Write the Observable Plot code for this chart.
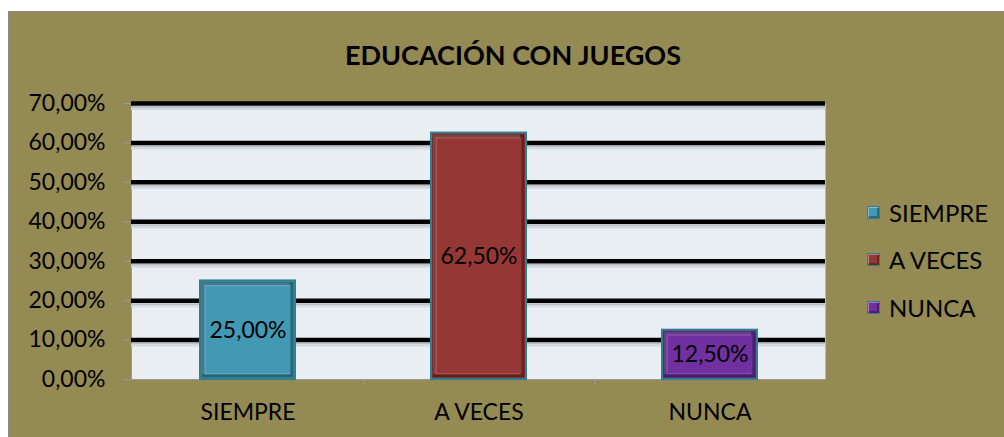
<!DOCTYPE html>
<html>
<head>
<meta charset="utf-8">
<script src="https://cdn.jsdelivr.net/npm/d3@7"></script>
<script src="https://cdn.jsdelivr.net/npm/@observablehq/plot@0.6"></script>
<style>
  html, body { margin: 0; padding: 0; background: #fff; }
  #wrap { position: relative; width: 1004px; height: 437px; overflow: hidden; font-family: Lato, "Noto Sans", sans-serif; }
  #panel { position: absolute; left: 8px; top: 11px; right: 0; bottom: 0; background: #948a54; border-left: 1px solid #8a8a8a; border-top: 1px solid #8a8a8a; }
  #title { position: absolute; left: 0; width: 1026px; top: 38px; text-align: center; font-weight: bold; font-size: 27px; color: #000; }
  #chart { position: absolute; left: 0; top: 0; }
  #legend { position: absolute; left: 867px; top: 0; }
  .item { position: absolute; left: 0; display: flex; align-items: center; white-space: nowrap; font-size: 24px; color: #000; }
  .sw { width: 11px; height: 11px; margin-right: 9px; border: 1px solid #2f7f93; box-shadow: inset 1px 1px 0 rgba(255,255,255,0.35), inset -2px -2px 0 rgba(0,0,0,0.3); }
</style>
</head>
<body>
<div id="wrap">
  <div id="panel"></div>
  <div id="title"></div>
  <div id="chart"></div>
  <div id="legend"></div>
</div>
<script>
const titleText = "EDUCACIÓN CON JUEGOS";
const categories = ["SIEMPRE", "A VECES", "NUNCA"];
const values = [0.25, 0.625, 0.125];
const colors = ["#4299b4", "#953735", "#7030a0"];
const yTicks = [0, 0.1, 0.2, 0.3, 0.4, 0.5, 0.6, 0.7];
const gridTicks = [0.1, 0.2, 0.3, 0.4, 0.5, 0.6, 0.7];

const data = categories.map((c, i) => ({category: c, value: values[i], color: colors[i]}));
const pct = d => (d * 100).toFixed(2).replace(".", ",") + "%";

document.getElementById("title").textContent = titleText;

const W = 1004, H = 437;
const mL = 131, mR = 179, mT = 103, mB = 58;
const band = (W - mL - mR) / categories.length;

const chart = Plot.plot({
  width: W,
  height: H,
  marginLeft: mL,
  marginRight: mR,
  marginTop: mT,
  marginBottom: mB,
  style: {background: "transparent", fontFamily: "Lato, 'Noto Sans', sans-serif", color: "#000", overflow: "visible"},
  x: {domain: categories, padding: 0, label: null},
  y: {domain: [0, 0.7], label: null},
  marks: [
    Plot.frame({fill: "#e8eef2", stroke: null}),
    Plot.frame({anchor: "left", stroke: "#9a9a9a"}),
    // gridline shadows
    Plot.ruleY(gridTicks, {stroke: "#b9c1c7", strokeWidth: 2, dy: 3.5}),
    Plot.ruleY(gridTicks, {stroke: "#d3d9de", strokeWidth: 2, dy: 5.5}),
    Plot.ruleY(gridTicks, {stroke: "#000", strokeWidth: 4.5}),
    Plot.ruleY([0], {stroke: "#9a9a9a", strokeWidth: 1.2}),
    Plot.axisY({ticks: yTicks, tickFormat: pct, tickSize: 7, tickPadding: 19, stroke: "#9a9a9a", fill: "#000", fontSize: 23}),
    Plot.axisX({tickSize: 0, tickPadding: 24, fill: "#000", fontSize: 23}),
    // category separator ticks below the axis
    Plot.ruleX(categories.slice(0, -1), {x: d => d, dx: band / 2, y1: 0, y2: 0.013, dy: 5, stroke: "#9a9a9a", strokeWidth: 1.2}),
    // bars: outer with teal border
    Plot.barY(data, {x: "category", y: "value", fill: "color", stroke: "#2f7f93", strokeWidth: 2, insetLeft: 68, insetRight: 68}),
    // bevel dark inner frame
    Plot.barY(data, {x: "category", y: "value", fill: "none", stroke: "rgba(0,0,0,0.35)", strokeWidth: 3, insetLeft: 71, insetRight: 71, insetTop: 3, insetBottom: 3}),
    // bevel light top-left
    Plot.barY(data, {x: "category", y: "value", fill: "rgba(255,255,255,0.15)", insetLeft: 70, insetRight: 74, insetTop: 2, insetBottom: 5}),
    // inner face
    Plot.barY(data, {x: "category", y: "value", fill: "color", insetLeft: 74, insetRight: 74, insetTop: 6, insetBottom: 6}),
    Plot.text(data, {x: "category", y: d => d.value / 2, text: d => pct(d.value), fontSize: 23, fill: "#000"})
  ]
});
document.getElementById("chart").appendChild(chart);

// legend
const legend = document.getElementById("legend");
const legendY = [212, 259, 307];
categories.forEach((c, i) => {
  const it = document.createElement("div");
  it.className = "item";
  it.style.top = (legendY[i] - 14) + "px";
  it.style.height = "28px";
  const sw = document.createElement("span");
  sw.className = "sw";
  sw.style.background = colors[i];
  const t = document.createElement("span");
  t.textContent = c;
  it.appendChild(sw);
  it.appendChild(t);
  legend.appendChild(it);
});
</script>
</body>
</html>
